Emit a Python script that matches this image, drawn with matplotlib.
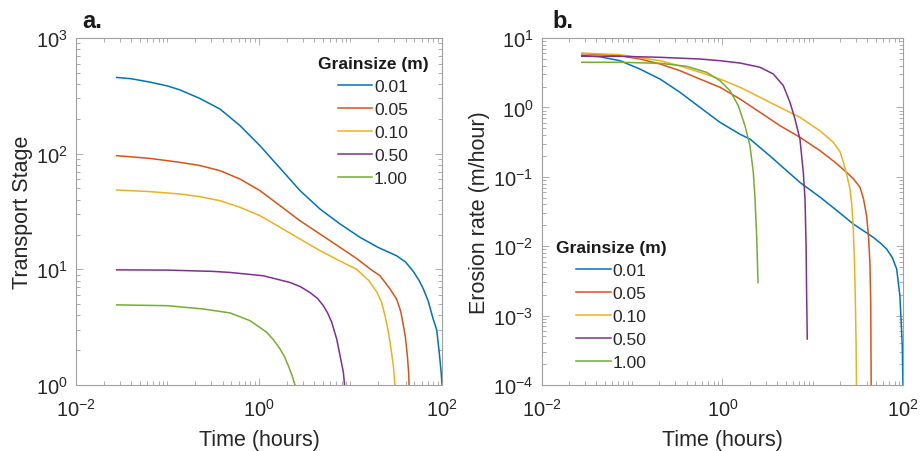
import matplotlib
matplotlib.use('Agg')
import matplotlib.pyplot as plt
import matplotlib.ticker as mticker

plt.rcParams['font.family'] = ['Liberation Sans', 'DejaVu Sans']
plt.rcParams['mathtext.default'] = 'regular'

grain_labels = ['0.01', '0.05', '0.10', '0.50', '1.00']
colors = ['#0072BD', '#D95319', '#EDB120', '#7E2F8E', '#77AC30']

# a. transport stage vs time (hours), one series per grain size
t_a1 = [0.0278, 0.0398, 0.0641, 0.1, 0.137, 0.226, 0.375, 0.619, 1.026, 1.698, 2.805, 4.645, 7.674,
        12.71, 19.95, 31.92, 39.81, 48.53, 56.23, 62.37, 70.79, 79.43, 87.5, 93.33, 97.72, 100]
ts_a1 = [456, 445, 416, 385, 356, 300, 243, 175, 117, 75, 48, 33.2, 24.7,
         18.9, 15.5, 13.1, 11.6, 9.6, 8.0, 6.8, 5.3, 3.8, 3.0, 1.9, 1.3, 1.0]
t_a2 = [0.0278, 0.0398, 0.0641, 0.1, 0.137, 0.226, 0.375, 0.619, 1.026, 1.698, 2.805, 4.645, 7.674,
        11.67, 16.6, 20.99, 26.92, 31.99, 35.48, 37.76, 39.81, 41.78, 43.15, 43.65]
ts_a2 = [96, 94, 91, 87, 84.1, 79.0, 71.3, 60.4, 47.9, 35.5, 26.3, 20.2, 15.5,
         12.4, 10.0, 8.8, 6.8, 5.5, 4.3, 3.3, 2.6, 1.8, 1.3, 1.0]
t_a3 = [0.0278, 0.0641, 0.137, 0.226, 0.375, 0.619, 1.026, 1.698, 2.805, 4.645, 7.362,
        11.67, 15.85, 19.28, 21.88, 23.77, 25.7, 27.04, 28.51, 29.38, 30.62]
ts_a3 = [48.5, 47, 44.8, 42.5, 39.2, 34.4, 29.1, 23.1, 18.3, 14.5, 12.0,
         10.0, 8.0, 6.4, 5.2, 4.0, 3.0, 2.34, 1.75, 1.47, 1.0]
t_a4 = [0.0278, 0.1, 0.316, 0.482, 1.114, 2.183, 2.818, 3.606, 4.365, 5.047, 5.623, 6.223, 7.063, 7.816, 8.356, 8.61]
ts_a4 = [9.9, 9.85, 9.6, 9.4, 8.8, 7.7, 7.1, 6.3, 5.6, 4.85, 4.2, 3.5, 2.5, 1.68, 1.29, 1.0]
t_a5 = [0.0278, 0.1, 0.246, 0.482, 0.798, 1.213, 1.445, 1.698, 1.905, 2.089, 2.291, 2.472]
ts_a5 = [4.93, 4.85, 4.54, 4.2, 3.6, 2.86, 2.45, 2.05, 1.75, 1.47, 1.22, 1.0]

# b. erosion rate (m/hour) vs time (hours)
t_b1 = [0.0278, 0.0447, 0.0735, 0.122, 0.204, 0.339, 0.564, 0.938, 1.563, 2.014, 3.35, 7.194, 11.99,
        19.95, 27.99, 38.64, 46.56, 56.23, 65.46, 75.86, 84.53, 91.83, 97.5, 100]
er_b1 = [5.6, 5.35, 4.71, 3.57, 2.56, 1.65, 1.0, 0.61, 0.41, 0.35, 0.20, 0.083, 0.051,
         0.030, 0.0209, 0.0158, 0.0134, 0.011, 0.0091, 0.0068, 0.0047, 0.0019, 0.00037, 0.00005]
t_b2 = [0.0278, 0.0735, 0.122, 0.204, 0.339, 0.564, 0.938, 1.563, 2.6, 4.325, 7.194, 11.99,
        17.78, 23.6, 28.18, 33.19, 36.31, 39.26, 41.21, 42.76, 43.65, 44.26]
er_b2 = [5.95, 5.56, 4.98, 4.22, 3.38, 2.56, 1.95, 1.32, 0.85, 0.545, 0.371, 0.238,
         0.16, 0.116, 0.093, 0.0706, 0.048, 0.0275, 0.014, 0.0058, 0.0015, 0.00005]
t_b3 = [0.0278, 0.0735, 0.204, 0.339, 0.564, 0.938, 1.563, 2.6, 4.325, 7.194, 11.99, 16.83,
        19.95, 21.73, 23.6, 25.7, 26.92, 27.99, 28.84, 29.44, 30.06, 30.48]
er_b3 = [6.07, 5.75, 4.71, 3.95, 3.21, 2.56, 1.95, 1.40, 1.0, 0.72, 0.46, 0.314,
         0.23, 0.162, 0.11, 0.067, 0.04, 0.0177, 0.006, 0.0019, 0.0004, 0.00005]
t_b4 = [0.0278, 0.0735, 0.204, 0.564, 0.938, 1.563, 2.6, 3.648, 4.71, 5.585, 6.339, 7.194,
        7.834, 8.185, 8.414, 8.531, 8.67]
er_b4 = [5.45, 5.45, 5.27, 4.98, 4.71, 4.36, 3.79, 3.03, 2.06, 1.18, 0.68, 0.35,
         0.116, 0.048, 0.01, 0.0019, 0.00046]
t_b5 = [0.0278, 0.0735, 0.204, 0.402, 0.668, 0.938, 1.211, 1.496, 1.774, 2.014, 2.193, 2.291, 2.388, 2.472]
er_b5 = [4.47, 4.47, 4.32, 3.91, 3.2, 2.43, 1.74, 1.06, 0.545, 0.28, 0.116, 0.048, 0.0142, 0.003]

series_a = [(t_a1, ts_a1), (t_a2, ts_a2), (t_a3, ts_a3), (t_a4, ts_a4), (t_a5, ts_a5)]
series_b = [(t_b1, er_b1), (t_b2, er_b2), (t_b3, er_b3), (t_b4, er_b4), (t_b5, er_b5)]

frame_col = '#a0a0a0'
text_col = '#262626'


def style_axes(ax, ymin, ymax):
    ax.set_xscale('log')
    ax.set_yscale('log')
    ax.set_xlim(1e-2, 1e2)
    ax.set_ylim(ymin, ymax)
    ax.xaxis.set_major_locator(mticker.FixedLocator([1e-2, 1e0, 1e2]))
    ax.xaxis.set_minor_locator(mticker.LogLocator(base=10, subs=range(1, 10), numticks=20))
    ax.xaxis.set_minor_formatter(mticker.NullFormatter())
    ax.yaxis.set_major_locator(mticker.LogLocator(base=10, numticks=20))
    ax.yaxis.set_minor_locator(mticker.LogLocator(base=10, subs=range(2, 10), numticks=20))
    ax.yaxis.set_minor_formatter(mticker.NullFormatter())
    ax.tick_params(which='both', direction='in', top=True, right=True,
                   color=frame_col, labelcolor=text_col, labelsize=14.5, width=0.6)
    ax.tick_params(axis='x', pad=9)
    ax.tick_params(axis='y', pad=6)
    ax.tick_params(which='major', length=5)
    ax.tick_params(which='minor', length=3)
    for sp in ax.spines.values():
        sp.set_color(frame_col)
        sp.set_linewidth(0.8)
    ax.set_xlabel('Time (hours)', fontsize=15.5, color=text_col, labelpad=7)


fig = plt.figure(figsize=(9.22, 4.52), dpi=100)
ax1 = fig.add_axes([0.0824, 0.146, 0.397, 0.7677])
ax2 = fig.add_axes([0.5875, 0.146, 0.3922, 0.7677])

for (t, v), c, lab in zip(series_a, colors, grain_labels):
    ax1.plot(t, v, color=c, lw=1.1, label=lab)
for (t, v), c, lab in zip(series_b, colors, grain_labels):
    ax2.plot(t, v, color=c, lw=1.1, label=lab)

style_axes(ax1, 1, 1e3)
style_axes(ax2, 1e-4, 1e1)
ax1.set_ylabel('Transport Stage', fontsize=15.5, color=text_col, labelpad=2)
ax2.set_ylabel('Erosion rate (m/hour)', fontsize=15.5, color=text_col, labelpad=2)

leg_kw = dict(frameon=False, fontsize=12.5, handlelength=2.0, handletextpad=0.1,
              labelspacing=0.45, borderpad=0.0,
              title='Grainsize (m)', title_fontproperties={'weight': 'bold', 'size': 12.5})
leg1 = ax1.legend(loc='upper center', bbox_to_anchor=(0.811, 0.972), **leg_kw)
leg2 = ax2.legend(loc='upper center', bbox_to_anchor=(0.192, 0.442), **leg_kw)
for leg in (leg1, leg2):
    leg.get_title().set_color('#1a1a1a')
    for txt in leg.get_texts():
        txt.set_color(text_col)

ax1.text(0.016, 1.05, 'a.', transform=ax1.transAxes, fontsize=17, fontweight='bold',
         ha='left', va='center', color='#1a1a1a')
ax2.text(0.031, 1.05, 'b.', transform=ax2.transAxes, fontsize=17, fontweight='bold',
         ha='left', va='center', color='#1a1a1a')

fig.savefig('out.png', dpi=100)
